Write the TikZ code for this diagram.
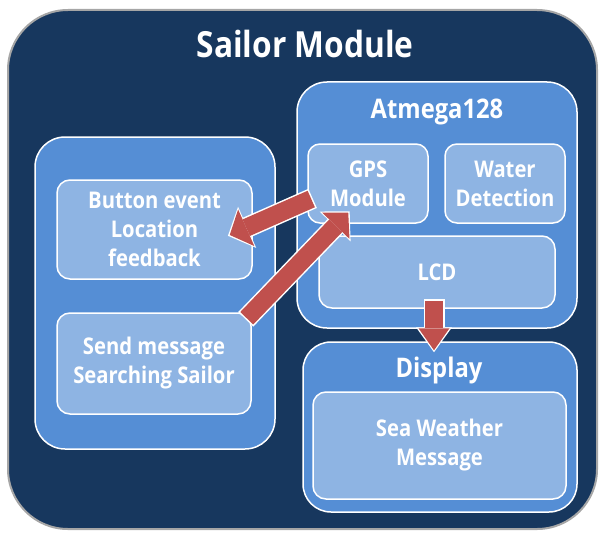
\documentclass[tikz,border=0pt]{standalone}
\usepackage{fontspec}
\setmainfont{Open Sans}[FakeStretch=0.88]
\usetikzlibrary{arrows.meta,calc}
\definecolor{navy}{HTML}{17375E}
\definecolor{panelblue}{HTML}{558ED5}
\definecolor{boxblue}{HTML}{8EB4E3}
\definecolor{flowred}{HTML}{C0504D}
\definecolor{rimgray}{HTML}{A6A6A6}

\begin{document}
\begin{tikzpicture}[x=1pt, y=-1pt,
	panel/.style={draw=white, line width=1.5pt, fill=panelblue, rounded corners=30pt, inner sep=0pt},
	box/.style={draw=white, line width=1.5pt, fill=boxblue, rounded corners=13pt, inner sep=0pt, text=white, align=center, font=\fontsize{23}{29}\selectfont\bfseries},
	heading/.style={text=white, anchor=base, inner sep=0pt, font=\fontsize{27}{32}\selectfont\bfseries},
	flow/.style 2 args={draw=flowred, line width=18pt, -{Triangle[line width=0pt, length=#1, width=#2]},
	  preaction={draw=white, line width=21pt, shorten >=-2pt, shorten <=-1.5pt, -{Triangle[line width=0pt, length=#1+3pt, width=#2+5pt]}}}]
	\useasboundingbox (0,0) rectangle (601,532);
	\node[draw=rimgray, line width=2pt, fill=navy, rounded corners=60pt, minimum width=589pt, minimum height=519pt] (module) at (302.5,269.5) {};
	\node[heading, font=\fontsize{36}{40}\selectfont\bfseries] (moduletitle) at (305,58) {Sailor Module};

	\node[panel, minimum width=240pt, minimum height=312pt] (sailor) at (155,293) {};
	\node[box, minimum width=195pt, minimum height=99pt] (button) at (154.5,229.5) {Button event\\Location\\feedback};
	\node[box, minimum width=194pt, minimum height=101pt] (send) at (154,363.5) {Send message\\Searching Sailor};

	\node[panel, minimum width=280pt, minimum height=246pt] (atmega) at (437,205) {};
	\node[heading] (atmegatitle) at (437,118) {Atmega128};
	\node[box, rounded corners=12pt, minimum width=120pt, minimum height=79pt] (gps) at (368,183.5) {GPS\\Module};
	\node[box, rounded corners=12pt, minimum width=120pt, minimum height=79pt] (water) at (505,183.5) {Water\\Detection};
	\node[box, minimum width=236pt, minimum height=72pt] (lcd) at (437,272) {LCD};

	\node[panel, rounded corners=28pt, minimum width=274pt, minimum height=170pt] (display) at (440,427) {};
	\node[heading] (displaytitle) at (439,377) {Display};
	\node[box, minimum width=253pt, minimum height=107pt] (weather) at (439.5,445.5) {Sea Weather\\Message};

	\draw[flow={18pt}{40pt}] ($(gps.west)+(4,15.5)$) -- ($(button.east)+(-23,5.5)$);
	\draw[flow={18pt}{38pt}] ($(send.north east)+(-5,6)$) -- ($(gps.south west)+(41,-11)$);
	\draw[flow={22pt}{31pt}] ($(lcd.south)+(-3,-8)$) -- ($(display.north)+(-6,9)$);
\end{tikzpicture}
\end{document}
